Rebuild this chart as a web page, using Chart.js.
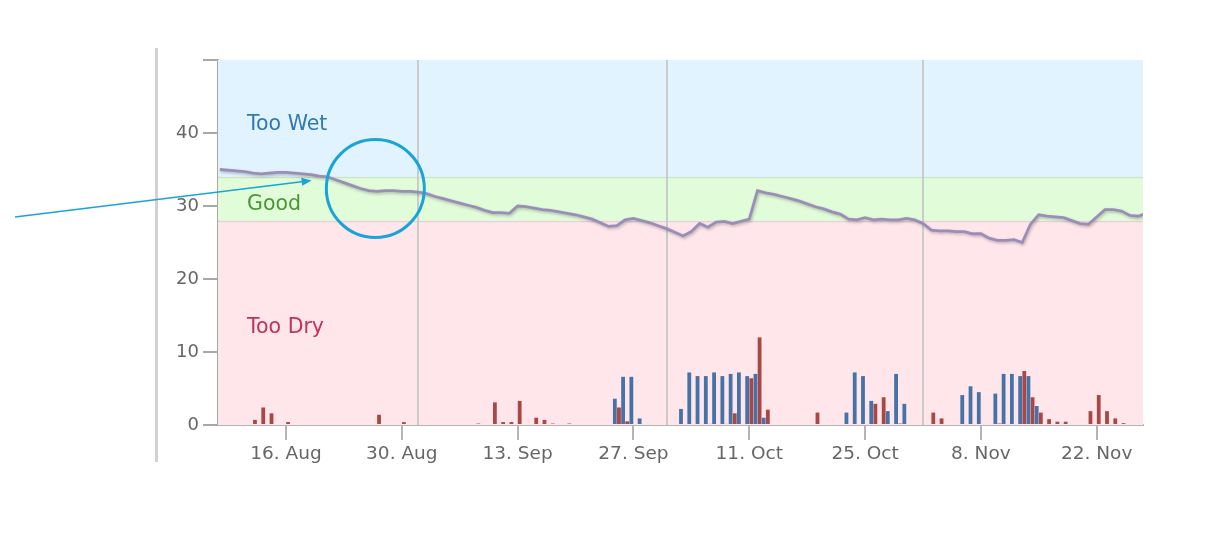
<!DOCTYPE html>
<html>
<head>
<meta charset="utf-8">
<script src="https://cdn.jsdelivr.net/npm/chart.js@4.4.0/dist/chart.umd.min.js"></script>
<style>
html, body { margin: 0; padding: 0; background: #fff; }
#wrap { width: 1210px; height: 541px; }
</style>
</head>
<body>
<div id="wrap"><canvas id="chart" width="1210" height="541"></canvas></div>
<script>
// day numbers are counted from 16 Aug (= day 0)
var xTickDays = [0, 14, 28, 42, 56, 70, 84, 98];
var xTickLabels = ["16. Aug", "30. Aug", "13. Sep", "27. Sep", "11. Oct", "25. Oct", "8. Nov", "22. Nov"];
var monthStartDays = [16, 46, 77]; // 1 Sep, 1 Oct, 1 Nov
var yTicks = [0, 10, 20, 30, 40, 50];

// moisture bands (lower limits up to upper limits)
var bandNames = ["Too Dry", "Good", "Too Wet"];
var bandFrom = [0, 28, 34];
var bandTo = [28, 34, 50];

// soil moisture, one value a day from day -8 (8 Aug)
var moistureFirstDay = -8;
var moisture = [
    35.0, 34.9, 34.8, 34.7, 34.5, 34.4, 34.5, 34.6, 34.6, 34.5,
    34.4, 34.3, 34.1, 34.0, 33.6, 33.2, 32.8, 32.4, 32.1, 32.0,
    32.1, 32.1, 32.0, 32.0, 31.9, 31.7, 31.3, 31.0, 30.7, 30.4,
    30.1, 29.8, 29.4, 29.1, 29.1, 29.0, 30.0, 29.9, 29.7, 29.5,
    29.4, 29.2, 29.0, 28.8, 28.5, 28.2, 27.7, 27.2, 27.3, 28.1,
    28.3, 28.0, 27.7, 27.3, 26.9, 26.4, 25.9, 26.5, 27.6, 27.1,
    27.8, 27.9, 27.6, 27.9, 28.2, 32.1, 31.8, 31.6, 31.3, 31.0,
    30.7, 30.3, 29.9, 29.6, 29.2, 28.9, 28.2, 28.1, 28.4, 28.1,
    28.2, 28.1, 28.1, 28.3, 28.1, 27.6, 26.7, 26.6, 26.6, 26.5,
    26.5, 26.2, 26.2, 25.6, 25.3, 25.3, 25.4, 25.0, 27.5, 28.8,
    28.6, 28.5, 28.4, 28.0, 27.6, 27.5, 28.5, 29.5, 29.5, 29.3,
    28.7, 28.6, 29.0
];

// irrigation (blue columns)
var irrigationDays = [40, 41, 42, 43, 48, 49, 50, 51, 52, 53, 54, 55, 56, 57, 58,
    68, 69, 70, 71, 73, 74, 75, 82, 83, 84, 86, 87, 88, 89, 90, 91];
var irrigation = [3.6, 6.6, 6.6, 0.9, 2.2, 7.2, 6.7, 6.7, 7.2, 6.7, 7.0, 7.2, 6.7, 7.0, 1.0,
    1.7, 7.2, 6.7, 3.3, 1.9, 7.0, 2.9, 4.1, 5.3, 4.5, 4.3, 7.0, 7.0, 6.7, 6.7, 2.6];

// rain (red columns)
var rainDays = [-4, -3, -2, 0, 11, 14, 23, 25, 26, 27, 28, 30, 31, 32, 34, 40, 41,
    51, 53, 54, 56, 57, 58, 64, 71, 72, 74, 78, 79, 86, 89, 90, 91, 92, 93, 94,
    97, 98, 99, 100, 101];
var rain = [0.7, 2.4, 1.6, 0.4, 1.4, 0.4, 0.2, 3.1, 0.4, 0.4, 3.3, 1.0, 0.7, 0.2, 0.2, 2.4, 0.5,
    0.15, 0.15, 1.6, 6.4, 12.0, 2.1, 1.7, 2.9, 3.8, 0.2, 1.7, 0.9, 0.2, 7.4, 3.8, 1.7, 0.8, 0.45, 0.45,
    1.9, 4.1, 1.9, 0.9, 0.25];

// the highlighted spot
var markDay = 10.8, markValue = 32.4;
var arrowTipDay = 3.1, arrowTipValue = 33.5;

var bandColors = ["#ffe6ea", "#e1fcd8", "#e0f3fe"];
var bandTextColors = ["#c2315b", "#4b9636", "#2f79b3"];
var bandTextAt = [13.4, 30.2, 41.1];
var annotColor = "#19a4d8";

function pairs(days, values) {
    var out = [];
    for (var i = 0; i < days.length; i++) {
        out.push({ x: days[i], y: values[i] });
    }
    return out;
}

var moisturePoints = [];
for (var i = 0; i < moisture.length; i++) {
    moisturePoints.push({ x: moistureFirstDay + i, y: moisture[i] });
}

var backPlugin = {
    id: "back",
    beforeDraw: function(chart) {
        var ctx = chart.ctx;
        // left frame line of the page
        ctx.save();
        ctx.strokeStyle = "#d2d2d2";
        ctx.lineWidth = 3;
        ctx.beginPath();
        ctx.moveTo(156.5, 48);
        ctx.lineTo(156.5, 462);
        ctx.stroke();
        ctx.restore();
    },
    beforeDatasetsDraw: function(chart) {
        var ctx = chart.ctx, area = chart.chartArea;
        var x = chart.scales.x, y = chart.scales.y;
        ctx.save();
        for (var i = 0; i < bandNames.length; i++) {
            var top = y.getPixelForValue(bandTo[i]);
            var bottom = y.getPixelForValue(bandFrom[i]);
            ctx.fillStyle = bandColors[i];
            ctx.fillRect(area.left, top, area.right - area.left, bottom - top);
        }
        // band edges
        ctx.strokeStyle = "rgba(0,0,0,0.09)";
        ctx.lineWidth = 1.5;
        [bandFrom[1], bandFrom[2]].forEach(function(v) {
            var py = Math.round(y.getPixelForValue(v)) + 0.5;
            ctx.beginPath();
            ctx.moveTo(area.left, py);
            ctx.lineTo(area.right, py);
            ctx.stroke();
        });
        // month lines
        ctx.strokeStyle = "#cbcbcb";
        ctx.lineWidth = 2;
        monthStartDays.forEach(function(d) {
            var px = Math.round(x.getPixelForValue(d));
            ctx.beginPath();
            ctx.moveTo(px, area.top);
            ctx.lineTo(px, area.bottom);
            ctx.stroke();
        });
        // band labels
        ctx.font = "20.5px 'DejaVu Sans'";
        ctx.textAlign = "left";
        ctx.textBaseline = "middle";
        for (var j = 0; j < bandNames.length; j++) {
            ctx.fillStyle = bandTextColors[j];
            ctx.fillText(bandNames[j], area.left + 29, y.getPixelForValue(bandTextAt[j]));
        }
        ctx.restore();
    },
    beforeDatasetDraw: function(chart, args) {
        if (args.index === 0) {
            var ctx = chart.ctx;
            ctx.save();
            ctx.shadowColor = "rgba(0,0,0,0.25)";
            ctx.shadowBlur = 3;
            ctx.shadowOffsetX = 1;
            ctx.shadowOffsetY = 1.5;
        }
    },
    afterDatasetDraw: function(chart, args) {
        if (args.index === 0) {
            chart.ctx.restore();
        }
    },
    afterDraw: function(chart) {
        var ctx = chart.ctx;
        var x = chart.scales.x, y = chart.scales.y;
        ctx.save();
        ctx.strokeStyle = annotColor;
        ctx.fillStyle = annotColor;
        // circle
        ctx.lineWidth = 3;
        ctx.beginPath();
        ctx.arc(x.getPixelForValue(markDay), y.getPixelForValue(markValue), 49, 0, Math.PI * 2);
        ctx.stroke();
        // arrow
        var x0 = 15, y0 = 217;
        var x1 = x.getPixelForValue(arrowTipDay), y1 = y.getPixelForValue(arrowTipValue);
        var ang = Math.atan2(y1 - y0, x1 - x0);
        ctx.lineWidth = 1.6;
        ctx.beginPath();
        ctx.moveTo(x0, y0);
        ctx.lineTo(x1 - 8 * Math.cos(ang), y1 - 8 * Math.sin(ang));
        ctx.stroke();
        ctx.beginPath();
        ctx.moveTo(x1, y1);
        ctx.lineTo(x1 - 10 * Math.cos(ang) + 4 * Math.sin(ang), y1 - 10 * Math.sin(ang) - 4 * Math.cos(ang));
        ctx.lineTo(x1 - 10 * Math.cos(ang) - 4 * Math.sin(ang), y1 - 10 * Math.sin(ang) + 4 * Math.cos(ang));
        ctx.closePath();
        ctx.fill();
        ctx.restore();
    }
};

Chart.defaults.font.family = "'DejaVu Sans'";
Chart.defaults.color = "#666";

new Chart(document.getElementById("chart"), {
    type: "line",
    data: {
        datasets: [{
            type: "line",
            label: "Moisture",
            data: moisturePoints,
            borderColor: "#9a8eb9",
            borderWidth: 2.8,
            pointRadius: 0,
            tension: 0,
            order: 0
        }, {
            type: "bar",
            label: "Irrigation",
            data: pairs(irrigationDays, irrigation),
            backgroundColor: "#4572a7",
            categoryPercentage: 1,
            barPercentage: 0.92,
            order: 1
        }, {
            type: "bar",
            label: "Rain",
            data: pairs(rainDays, rain),
            backgroundColor: "#aa4643",
            categoryPercentage: 1,
            barPercentage: 0.92,
            order: 1
        }]
    },
    options: {
        responsive: false,
        animation: false,
        layout: { padding: { left: 0, right: 67, top: 60, bottom: 0 } },
        plugins: { legend: { display: false }, tooltip: { enabled: false } },
        scales: {
            x: {
                type: "linear",
                min: -8.22,
                max: 103.6,
                offset: false,
                afterBuildTicks: function(scale) {
                    scale.ticks = xTickDays.map(function(d) { return { value: d }; });
                },
                afterFit: function(scale) { scale.height = 116; },
                ticks: {
                    autoSkip: false,
                    maxRotation: 0,
                    padding: 3,
                    font: { size: 18.5 },
                    color: "#666",
                    callback: function(value, index) { return xTickLabels[index]; }
                },
                grid: {
                    drawOnChartArea: false,
                    drawTicks: true,
                    tickLength: 15,
                    color: "#b4b4b4",
                    lineWidth: 2,
                    offset: false
                },
                border: { color: "#b4b4b4", width: 2 }
            },
            y: {
                min: 0,
                max: 50,
                afterBuildTicks: function(scale) {
                    scale.ticks = yTicks.map(function(v) { return { value: v }; });
                },
                afterFit: function(scale) { scale.width = 218; },
                ticks: {
                    padding: 4,
                    font: { size: 18 },
                    color: "#666",
                    callback: function(value) { return value === 50 ? "" : value; }
                },
                grid: {
                    drawOnChartArea: false,
                    drawTicks: true,
                    tickLength: 15,
                    color: "#a8a8a8",
                    lineWidth: 2
                },
                border: { color: "#a8a8a8", width: 2 }
            }
        }
    },
    plugins: [backPlugin]
});
</script>
</body>
</html>
